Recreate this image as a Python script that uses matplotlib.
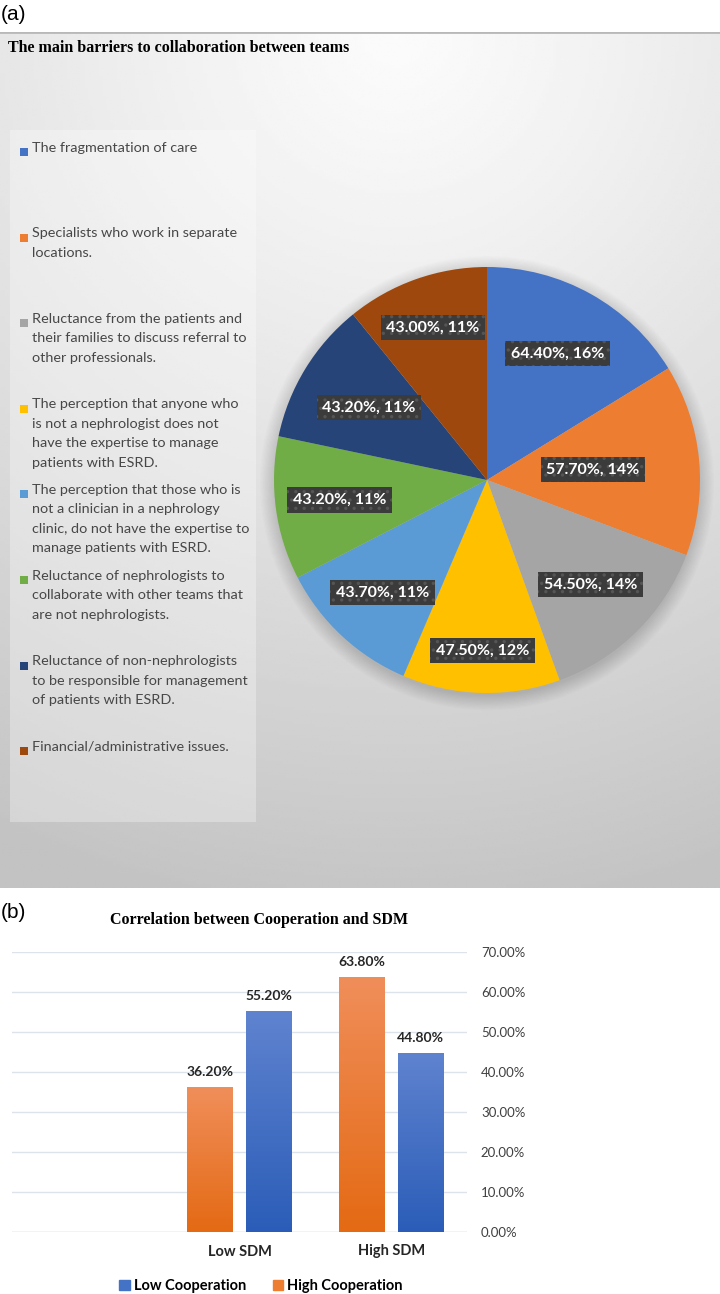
import matplotlib
matplotlib.use("Agg")
import matplotlib.pyplot as plt
import numpy as np
from matplotlib.patches import Rectangle, Circle

# ---- data: panel (a) ----
barriers = [
    "The fragmentation of care",
    "Specialists who work in separate\nlocations.",
    "Reluctance from the patients and\ntheir families to discuss referral to\nother professionals.",
    "The perception that anyone who\nis not a nephrologist does not\nhave the expertise to manage\npatients with ESRD.",
    "The perception that those who is\nnot a clinician in a nephrology\nclinic, do not have the expertise to\nmanage patients with ESRD.",
    "Reluctance of nephrologists to\ncollaborate with other teams that\nare not nephrologists.",
    "Reluctance of non-nephrologists\nto be responsible for management\nof patients with ESRD.",
    "Financial/administrative issues.",
]
barrier_pct = [64.4, 57.7, 54.5, 47.5, 43.7, 43.2, 43.2, 43.0]
barrier_share = [16, 14, 14, 12, 11, 11, 11, 11]
pie_colors = ["#4472C4", "#ED7D31", "#A5A5A5", "#FFC000",
              "#5B9BD5", "#70AD47", "#264478", "#9E480E"]
label_r = [0.68, 0.50, 0.69, 0.80, 0.72, 0.70, 0.65, 0.76]

# ---- data: panel (b) ----
sdm_groups = ["", "Low SDM", "High SDM"]
high_coop = [np.nan, 36.2, 63.8]
low_coop = [np.nan, 55.2, 44.8]

W, H = 720, 1294
fig = plt.figure(figsize=(W / 100, H / 100), dpi=100)
fig.patch.set_facecolor("white")

def fx(px):
    return px / W

def fy(py):
    return 1 - py / H

sans = ["Lato", "DejaVu Sans"]
serif = ["Liberation Serif", "DejaVu Serif"]

# gradient background for panel (a)
bg = fig.add_axes([0, fy(888), 1, fy(32) - fy(888)])
yy, xx = np.mgrid[0:1:300j, 0:1:200j]
d = np.sqrt(((xx - 0.55) * 1.0) ** 2 + ((yy - 0.0) * 1.2) ** 2)
d = np.clip(d / 1.25, 0, 1)
shade = 0.985 - 0.22 * d ** 1.2
bg.imshow(shade, cmap="gray", vmin=0, vmax=1, extent=[0, 1, 0, 1],
          origin="upper", aspect="auto")
bg.set_xlim(0, 1)
bg.set_ylim(0, 1)
bg.axis("off")
bg.plot([0, 1], [1, 1], color="#b8b8b8", lw=2)

fig.text(fx(1), fy(15), "(a)", fontsize=15, family=["Liberation Sans", "DejaVu Sans"],
         va="center", ha="left")
fig.text(fx(8), fy(48), "The main barriers to collaboration between teams",
         fontsize=11.5, fontweight="bold", family=serif, va="center", ha="left")

# legend box
fig.patches.append(Rectangle((fx(10), fy(822)), fx(246), fy(130) - fy(822),
                             transform=fig.transFigure, facecolor="white",
                             alpha=0.3, edgecolor="none"))
for i, (lab, col) in enumerate(zip(barriers, pie_colors)):
    ym = 152 + i * 85.6
    fig.patches.append(Rectangle((fx(20), fy(ym + 4)), fx(8), fy(ym - 4) - fy(ym + 4),
                                 transform=fig.transFigure, facecolor=col,
                                 edgecolor="none"))
    fig.text(fx(32), fy(ym - 10.5), lab, fontsize=10.4, family=sans, color="#474747",
             va="top", ha="left", linespacing=1.75)

# pie
cx, cy, R = 487, 480, 213
pax = fig.add_axes([fx(cx - R - 20), fy(cy + R + 20), fx(2 * R + 40),
                    fy(cy - R - 20) - fy(cy + R + 20)])
# soft shadow
for k in range(12):
    pax.add_patch(Circle((0.0, -0.015), 1.0 + 0.006 * k, color="black",
                         alpha=0.012, lw=0, zorder=0))
wedges, _ = pax.pie(barrier_pct, colors=pie_colors, startangle=90,
                    counterclock=False, radius=1,
                    wedgeprops=dict(linewidth=0))
lim = (R + 20) / R
pax.set_xlim(-lim, lim)
pax.set_ylim(-lim, lim)
pax.set_aspect("equal")
pax.axis("off")
plt.rcParams["hatch.linewidth"] = 1.2
for w, v, s, r in zip(wedges, barrier_pct, barrier_share, label_r):
    ang = np.deg2rad((w.theta1 + w.theta2) / 2)
    pax.text(r * np.cos(ang), r * np.sin(ang), f"{v:.2f}%, {s}%",
             ha="center", va="center", color="white", fontsize=11.5,
             fontweight="bold", family=sans,
             bbox=dict(boxstyle="square,pad=0.35", facecolor="#3b3b3b",
                       edgecolor="#555555", hatch="..", linewidth=0))

# ---- panel (b) ----
fig.text(fx(1), fy(912), "(b)", fontsize=15, family=["Liberation Sans", "DejaVu Sans"],
         va="center", ha="left")
fig.text(fx(259), fy(920), "Correlation between Cooperation and SDM",
         fontsize=11.5, fontweight="bold", family=serif, va="center", ha="center")

bax = fig.add_axes([fx(12), fy(1232), fx(455), fy(952) - fy(1232)])
x = np.arange(len(sdm_groups))
bw = 0.30
off = 0.195
orange_bars = bax.bar(x - off, high_coop, bw, color="#ED7D31", zorder=2)
blue_bars = bax.bar(x + off, low_coop, bw, color="#4472C4", zorder=2)


def gradient_fill(bars, top, bottom):
    for b in bars:
        h = b.get_height()
        if not np.isfinite(h):
            continue
        grad = np.linspace(0, 1, 100).reshape(-1, 1)
        c1 = np.array(matplotlib.colors.to_rgb(top))
        c2 = np.array(matplotlib.colors.to_rgb(bottom))
        img = c1 + (c2 - c1) * grad[:, :, None]
        img = np.repeat(img, 2, axis=1)
        im = bax.imshow(img, extent=[b.get_x(), b.get_x() + b.get_width(), 0, h],
                        origin="upper", aspect="auto", zorder=3)
        im.set_clip_path(b)


gradient_fill(orange_bars, "#F08E5A", "#E46A14")
gradient_fill(blue_bars, "#5F83CF", "#2B5DB8")
for bars in (orange_bars, blue_bars):
    for b in bars:
        h = b.get_height()
        if np.isfinite(h):
            bax.text(b.get_x() + b.get_width() / 2, h + 2.2, f"{h:.2f}%",
                     ha="center", va="bottom", fontsize=10, fontweight="bold",
                     family=sans, color="#262626")

bax.set_xlim(-0.5, len(sdm_groups) - 0.5)
bax.set_ylim(0, 70)
bax.set_yticks(np.arange(0, 71, 10))
bax.set_yticklabels([f"{t:.2f}%" for t in np.arange(0, 71, 10)],
                    fontsize=9.5, family=sans, color="#404040")
bax.yaxis.tick_right()
bax.tick_params(axis="y", length=0, pad=10)
bax.set_xticks(x)
bax.set_xticklabels(sdm_groups, fontsize=10.5, fontweight="bold", family=sans,
                    color="#262626")
bax.tick_params(axis="x", length=0, pad=9)
bax.grid(axis="y", color="#dde3ea", lw=1, zorder=0)
for s in bax.spines.values():
    s.set_visible(False)
bax.axhline(0, color="#d9d9d9", lw=1, zorder=1)

h1 = Rectangle((0, 0), 1, 1, color="#4472C4")
h2 = Rectangle((0, 0), 1, 1, color="#ED7D31")
fig.legend([h1, h2], ["Low Cooperation", "High Cooperation"],
           loc="center", bbox_to_anchor=(fx(261), fy(1286)), ncol=2, frameon=False,
           handlelength=0.7, handleheight=0.7, handletextpad=0.3, columnspacing=1.8,
           prop=dict(family=sans, size=10.5, weight="bold"))

fig.savefig("out.png", dpi=100, facecolor="white")
